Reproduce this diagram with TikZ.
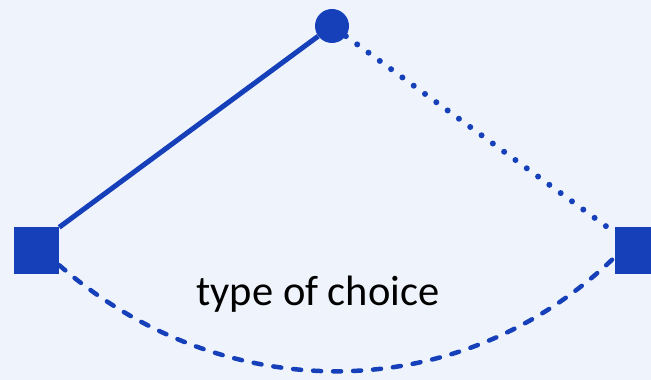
\documentclass[tikz,border=0pt]{standalone}
\usepackage{fontspec}
\setmainfont{Carlito}
\definecolor{bg}{RGB}{239,243,251}
\definecolor{mblue}{RGB}{22,64,185}
\begin{document}
\begin{tikzpicture}[x=1pt,y=1pt,
  sq/.style={rectangle, fill=mblue, minimum width=45pt, minimum height=47pt, inner sep=0pt},
  topdot/.style={circle, fill=mblue, minimum size=34pt, inner sep=0pt},
  solidlink/.style={draw=mblue, line width=5pt},
  dotlink/.style={draw=mblue, line width=6pt, line cap=round, dash pattern=on 0pt off 14pt},
  dashlink/.style={draw=mblue, line width=4.5pt, line cap=round, dash pattern=on 8pt off 12pt},
  lbl/.style={font=\fontsize{42.5}{50}\selectfont, text=black, inner sep=0pt, anchor=base}]
\fill[bg] (0,0) rectangle (651,380);
\useasboundingbox (0,0) rectangle (651,380);
\node[topdot] (top) at (332,354) {};
\node[sq] (lsq) at (36.5,129) {};
\node[sq] (rsq) at (637.5,129) {};
\node[lbl] (t) at (318,74) {type of choice};
\draw[solidlink] (top) -- (lsq.north east);
\draw[dotlink] (top) -- (rsq.141);
\draw[dashlink] (lsq.-32) to[out=-41, in=224] (rsq.195);
\end{tikzpicture}
\end{document}
